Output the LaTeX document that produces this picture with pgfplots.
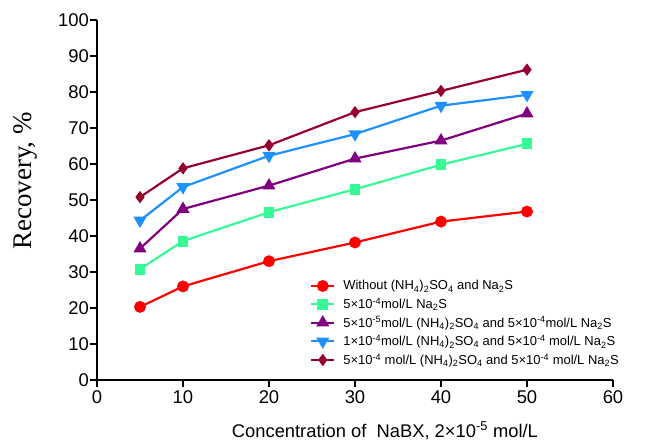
\documentclass[border=0pt]{standalone}
\usepackage{pgfplots}
\pgfplotsset{compat=1.18}
\usepackage{fontspec}
\setmainfont{Liberation Sans}
\newfontfamily\seriffont{Liberation Serif}
\definecolor{cRed}{RGB}{255,0,0}
\definecolor{cGreen}{RGB}{55,250,150}
\definecolor{cPurple}{RGB}{128,0,128}
\definecolor{cBlue}{RGB}{30,144,255}
\definecolor{cDark}{RGB}{150,0,45}
\newcommand{\Su}[1]{\textsuperscript{#1}}
\newcommand{\Sb}[1]{\textsubscript{#1}}
\begin{document}
\begin{tikzpicture}[x=1bp,y=1bp]
\begin{axis}[
  scale only axis,
  width=516bp, height=360bp,
  xmin=0, xmax=60, ymin=0, ymax=100,
  xtick={0,10,...,60}, ytick={0,10,...,100},
  axis x line*=bottom, axis y line*=left,
  axis line style={line width=2.4pt, -},
  tick style={line width=2pt, black},
  tick align=outside, major tick length=7bp,
  /pgf/number format/assume math mode=true,
  ticklabel style={font=\fontsize{18.5}{18.5}\selectfont},
  yticklabel style={inner sep=1bp},
  xticklabel style={inner sep=2bp, yshift=-1bp},
  xlabel={\fontsize{18.4}{18.4}\selectfont Concentration of\ \ NaBX, 2\texttimes10\Su{-5} mol/L},
  ylabel={\seriffont\fontsize{27}{27}\selectfont Recovery, \%},
  xlabel style={at={(axis description cs:0.558,0)}, anchor=base, yshift=-57bp},
  ylabel style={at={(axis description cs:0,0.553)}, anchor=center, yshift=72bp},
  every axis plot/.append style={line width=2.2pt},
  legend style={at={(0.407,0.288)}, anchor=north west, draw=none, fill=none,
     font=\fontsize{13}{13}\selectfont, row sep=2.6bp, column sep=6bp, cells={anchor=west}},
  legend image code/.code={\draw[mark repeat=2, mark phase=2] plot coordinates {(0bp,0bp)(11.5bp,0bp)(23bp,0bp)};},
  legend cell align=left,
]
\addplot[color=cRed, mark=*, mark size=4.8bp] coordinates {(5,20.3)(10,26.0)(20,33.0)(30,38.2)(40,44.0)(50,46.8)};
\addlegendentry{Without (NH\Sb{4})\Sb{2}SO\Sb{4} and Na\Sb{2}S}
\addplot[color=cGreen, mark=square*, mark size=4.4bp] coordinates {(5,30.8)(10,38.6)(20,46.6)(30,53.0)(40,59.8)(50,65.6)};
\addlegendentry{5\texttimes10\Su{-4}mol/L Na\Sb{2}S}
\addplot[color=cPurple, mark=triangle*, mark size=5.4bp] coordinates {(5,36.5)(10,47.5)(20,54.0)(30,61.5)(40,66.5)(50,74.0)};
\addlegendentry{5\texttimes10\Su{-5}mol/L (NH\Sb{4})\Sb{2}SO\Sb{4} and 5\texttimes10\Su{-4}mol/L Na\Sb{2}S}
\addplot[color=cBlue, mark=triangle*, mark options={rotate=180}, mark size=5.4bp] coordinates {(5,44.3)(10,53.6)(20,62.3)(30,68.3)(40,76.2)(50,79.2)};
\addlegendentry{1\texttimes10\Su{-4}mol/L (NH\Sb{4})\Sb{2}SO\Sb{4} and 5\texttimes10\Su{-4} mol/L Na\Sb{2}S}
\addplot[color=cDark, mark=diamond*, mark size=4.4bp] coordinates {(5,50.8)(10,58.8)(20,65.2)(30,74.4)(40,80.3)(50,86.2)};
\addlegendentry{5\texttimes10\Su{-4} mol/L (NH\Sb{4})\Sb{2}SO\Sb{4} and 5\texttimes10\Su{-4} mol/L Na\Sb{2}S}
\coordinate (LL) at (rel axis cs:0,0);
\coordinate (UR) at (rel axis cs:1,1);
\end{axis}
\pgfresetboundingbox
\path ([shift={(-97bp,-65bp)}]LL) rectangle ([shift={(35bp,20bp)}]UR);
\end{tikzpicture}
\end{document}
